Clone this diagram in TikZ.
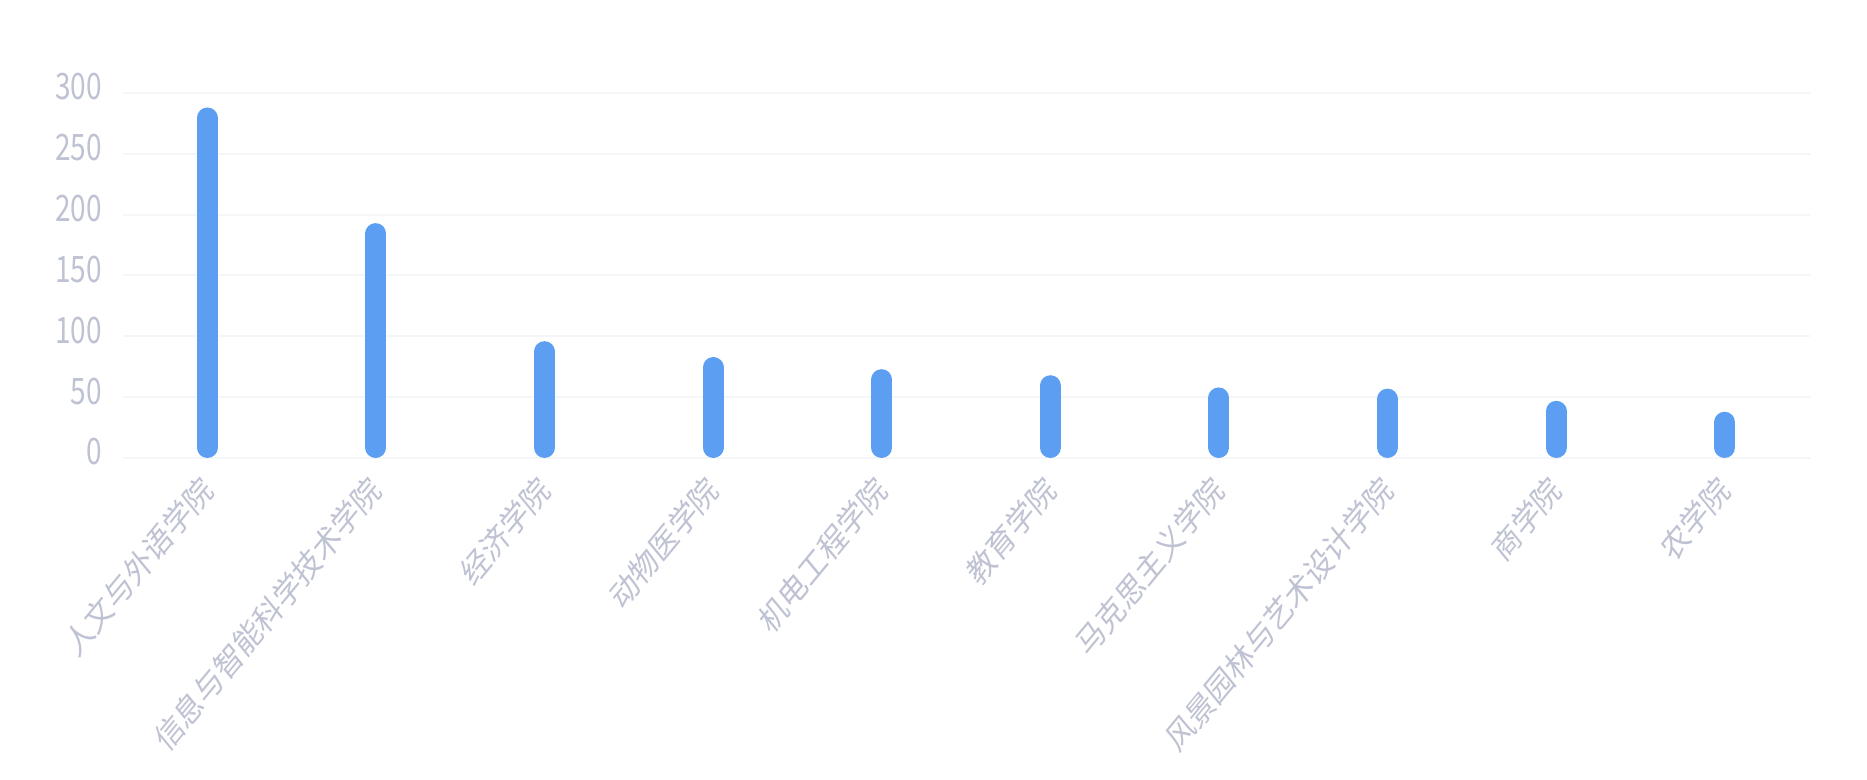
\documentclass[tikz,border=0pt]{standalone}
\usepackage{fontspec}
\newfontfamily\cjk{Noto Sans CJK SC}
\definecolor{barblue}{RGB}{92,159,242}
\definecolor{labelgray}{RGB}{190,194,210}
\definecolor{gridgray}{RGB}{245,246,248}
\tikzset{
  gridline/.style={draw=gridgray, line width=2pt},
  ylab/.style={anchor=east, inner sep=0pt, text=labelgray, font=\cjk\fontsize{28}{30}\selectfont, yscale=1.3},
  xlab/.style={anchor=east, inner sep=0pt, text=labelgray, font=\cjk\fontsize{27.8}{30}\selectfont, yscale=1.21, rotate=45},
  barline/.style={draw=barblue, line width=21pt, line cap=round}
}

\begin{document}
\begin{tikzpicture}[x=1pt, y=1pt]
  \useasboundingbox (0,0) rectangle (1867,779);
  % grid and y axis labels
  \foreach \v in {0,50,...,300} {
    \draw[gridline] (123,321+1.217*\v) -- (1810,321+1.217*\v);
    \node[ylab] (y\v) at (102,327+1.217*\v) {\v};
  }
  % bars and category labels
  \foreach \val/\name [count=\i] in {288/人文与外语学院, 193/信息与智能科学技术学院, 96/经济学院, 83/动物医学院, 73/机电工程学院, 68/教育学院, 58/马克思主义学院, 57/风景园林与艺术设计学院, 47/商学院, 38/农学院} {
    \pgfmathsetmacro{\bx}{123+168.6*(\i-0.5)}
    \coordinate (b\i) at (\bx,331.5);
    \coordinate (t\i) at (\bx,310.5+1.217*\val);
    \draw[barline] (b\i) -- (t\i);
    \node[xlab] (c\i) at (\bx,296) {\name};
  }
\end{tikzpicture}
\end{document}
